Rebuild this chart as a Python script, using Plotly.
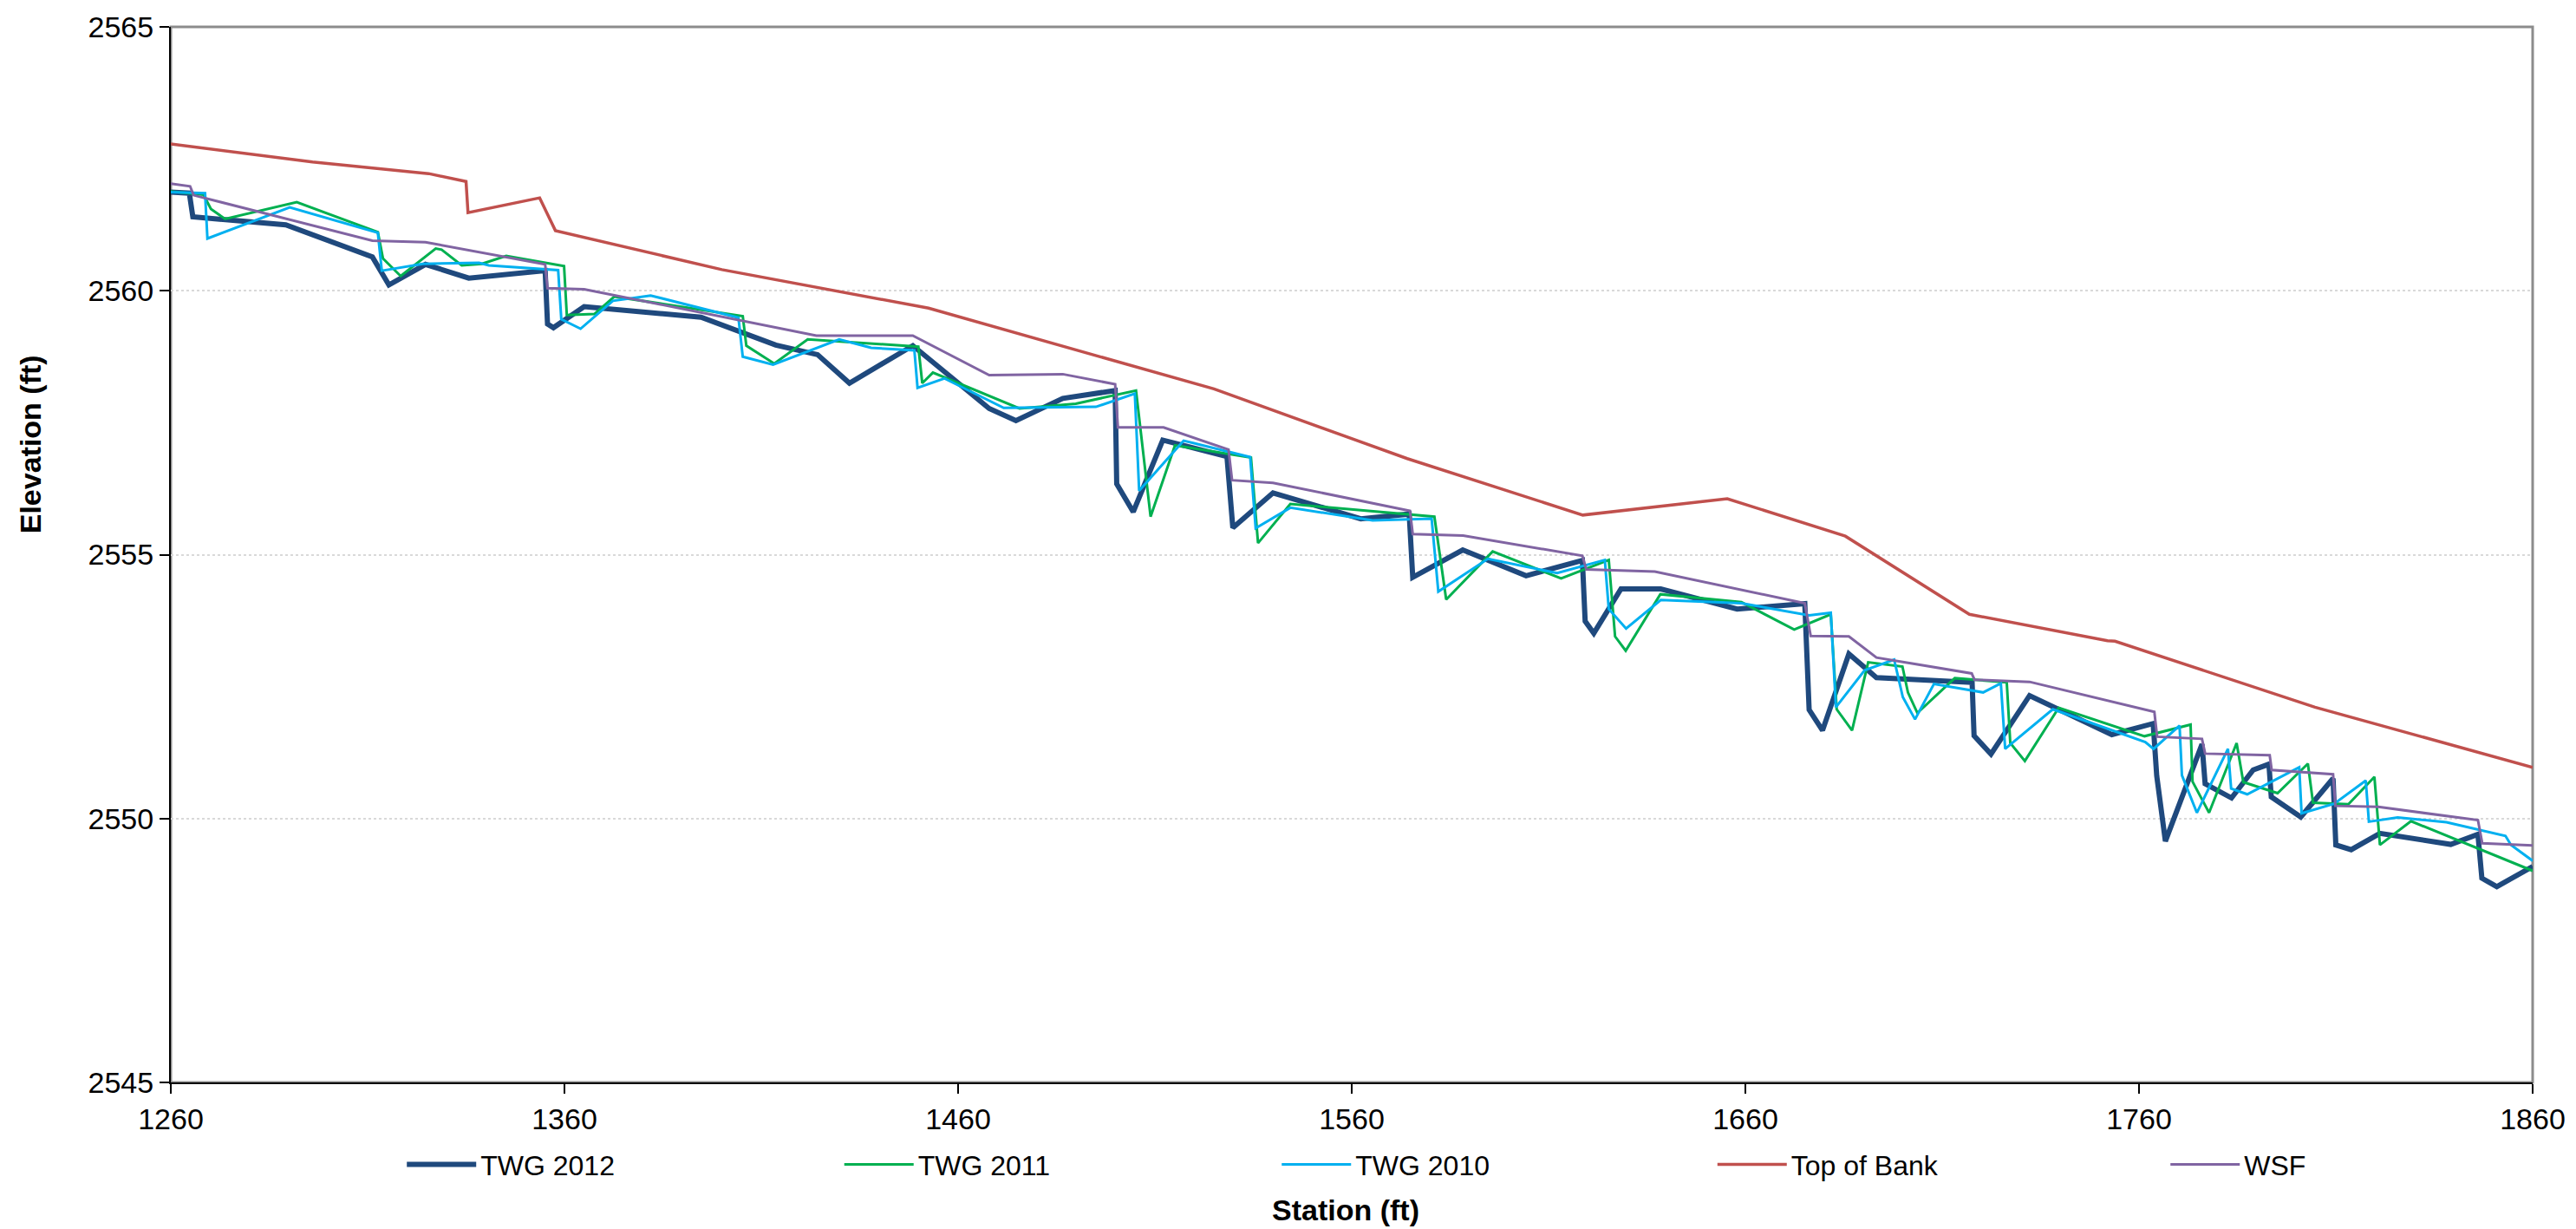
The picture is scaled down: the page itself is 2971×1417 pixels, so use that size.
import plotly.graph_objects as go

# ---------------- data ----------------
sta_2012 = [1260, 1264.7, 1265.6, 1289.2, 1311.2, 1315.4, 1324.7, 1335.7, 1355.1, 1355.7,
            1357.2, 1365.0, 1394.7, 1413.7, 1424.3, 1432.4, 1448.5, 1467.9, 1474.7, 1486.6,
            1499.9, 1500.3, 1504.5, 1512.0, 1528.3, 1529.8, 1540.0, 1562.3, 1574.6, 1575.5,
            1588.2, 1604.3, 1618.6, 1619.3, 1621.5, 1628.4, 1638.5, 1657.9, 1675.1, 1676.2,
            1679.6, 1686.3, 1693.3, 1717.6, 1718.1, 1722.4, 1732.2, 1753.1, 1763.6, 1764.5,
            1766.7, 1776.0, 1776.8, 1783.5, 1789.0, 1793.0, 1793.6, 1801.1, 1809.3, 1810.0,
            1813.9, 1821.2, 1839.2, 1846.1, 1847.1, 1850.9, 1860]
elev_2012 = [2561.87, 2561.85, 2561.40, 2561.25, 2560.64, 2560.11, 2560.50, 2560.24, 2560.38, 2559.37,
             2559.30, 2559.70, 2559.50, 2558.97, 2558.79, 2558.25, 2558.96, 2557.77, 2557.54, 2557.96,
             2558.11, 2556.34, 2555.81, 2557.17, 2556.86, 2555.51, 2556.17, 2555.68, 2555.77, 2554.57,
             2555.09, 2554.60, 2554.89, 2553.74, 2553.51, 2554.35, 2554.35, 2553.97, 2554.07, 2552.06,
             2551.67, 2553.12, 2552.67, 2552.58, 2551.57, 2551.22, 2552.33, 2551.59, 2551.80, 2550.81,
             2549.57, 2551.41, 2550.66, 2550.39, 2550.92, 2551.03, 2550.41, 2550.03, 2550.76, 2549.50,
             2549.41, 2549.72, 2549.51, 2549.70, 2548.87, 2548.71, 2549.09]

sta_2011 = [1260, 1268.3, 1270.2, 1273.8, 1292.0, 1312.6, 1313.9, 1318.4, 1327.3, 1328.8,
            1333.9, 1339.0, 1345.2, 1359.9, 1360.6, 1367.6, 1372.7, 1405.3, 1406.2, 1413.3,
            1421.8, 1449.9, 1450.9, 1453.6, 1475.6, 1489.9, 1505.2, 1508.9, 1515.1, 1534.4,
            1536.2, 1544.4, 1581.0, 1584.0, 1595.8, 1613.2, 1625.3, 1626.9, 1629.6, 1638.4,
            1659.0, 1672.4, 1681.7, 1683.2, 1687.1, 1691.2, 1699.9, 1701.3, 1703.7, 1713.2,
            1726.4, 1727.3, 1731.0, 1739.6, 1761.4, 1773.1, 1773.6, 1777.8, 1784.8, 1786.5,
            1795.2, 1802.9, 1804.2, 1813.2, 1819.8, 1821.2, 1829.1, 1860]
elev_2011 = [2561.88, 2561.82, 2561.55, 2561.36, 2561.68, 2561.11, 2560.61, 2560.28, 2560.80, 2560.78,
             2560.48, 2560.51, 2560.66, 2560.47, 2559.54, 2559.56, 2559.89, 2559.52, 2558.96, 2558.62,
             2559.08, 2558.94, 2558.25, 2558.45, 2557.77, 2557.86, 2558.11, 2555.72, 2557.07, 2556.84,
             2555.22, 2555.96, 2555.72, 2554.15, 2555.06, 2554.55, 2554.90, 2553.45, 2553.18, 2554.25,
             2554.10, 2553.58, 2553.87, 2552.07, 2551.67, 2552.96, 2552.88, 2552.39, 2552.00, 2552.66,
             2552.58, 2551.43, 2551.09, 2552.10, 2551.56, 2551.78, 2550.70, 2550.11, 2551.43, 2550.69,
             2550.48, 2551.04, 2550.30, 2550.27, 2550.79, 2549.50, 2549.95, 2549.01]

sta_2010 = [1260, 1268.7, 1269.3, 1290.2, 1312.6, 1313.6, 1324.0, 1338.3, 1340.8, 1358.4,
            1359.2, 1364.1, 1372.3, 1381.9, 1404.2, 1405.3, 1413.0, 1429.8, 1437.9, 1448.9,
            1449.7, 1456.5, 1471.6, 1495.0, 1504.9, 1506.0, 1517.3, 1534.2, 1535.6, 1544.4,
            1565.3, 1580.3, 1582.0, 1594.6, 1612.2, 1624.3, 1625.3, 1629.7, 1638.5, 1659.0,
            1676.2, 1681.7, 1683.0, 1690.3, 1697.8, 1700.0, 1703.1, 1707.9, 1720.4, 1724.9,
            1726.0, 1738.1, 1761.6, 1763.7, 1770.3, 1770.9, 1774.7, 1782.6, 1783.4, 1787.5,
            1800.7, 1801.3, 1809.6, 1817.6, 1818.4, 1825.7, 1838.1, 1853.1, 1854.5, 1860]
elev_2010 = [2561.87, 2561.85, 2560.99, 2561.58, 2561.10, 2560.38, 2560.51, 2560.53, 2560.48, 2560.39,
             2559.46, 2559.28, 2559.81, 2559.91, 2559.49, 2558.75, 2558.60, 2559.08, 2558.92, 2558.87,
             2558.16, 2558.34, 2557.78, 2557.80, 2558.05, 2556.21, 2557.16, 2556.85, 2555.50, 2555.89,
             2555.65, 2555.68, 2554.30, 2554.92, 2554.65, 2554.90, 2553.97, 2553.60, 2554.14, 2554.08,
             2553.85, 2553.90, 2552.11, 2552.81, 2553.01, 2552.30, 2551.88, 2552.55, 2552.39, 2552.56,
             2551.32, 2552.07, 2551.45, 2551.32, 2551.76, 2550.82, 2550.11, 2551.32, 2550.57, 2550.46,
             2550.97, 2550.10, 2550.28, 2550.72, 2549.94, 2550.02, 2549.93, 2549.67, 2549.50, 2549.20]

sta_bank = [1260, 1296.0, 1325.5, 1335.0, 1335.5, 1353.7, 1357.7, 1400.0, 1452.5, 1525.0,
            1574.1, 1618.7, 1655.4, 1685.4, 1716.9, 1752.0, 1753.9, 1804.7, 1860]
elev_bank = [2562.78, 2562.44, 2562.22, 2562.07, 2561.48, 2561.76, 2561.14, 2560.40, 2559.67, 2558.14,
             2556.82, 2555.75, 2556.06, 2555.35, 2553.87, 2553.37, 2553.36, 2552.11, 2550.97]

sta_wsf = [1260, 1264.9, 1265.8, 1311.2, 1324.7, 1355.1, 1355.7, 1365.0, 1424.0, 1448.5,
           1467.9, 1486.6, 1499.9, 1500.6, 1512.2, 1528.7, 1529.6, 1540.0, 1574.8, 1575.5,
           1588.3, 1618.6, 1619.6, 1637.0, 1675.1, 1676.6, 1686.3, 1693.3, 1717.5, 1718.2,
           1732.2, 1763.9, 1764.6, 1776.0, 1776.8, 1793.2, 1793.7, 1809.3, 1809.9, 1820.8,
           1846.1, 1847.2, 1860]
elev_wsf = [2562.03, 2561.98, 2561.81, 2560.95, 2560.92, 2560.50, 2560.05, 2560.03, 2559.15, 2559.15,
            2558.40, 2558.42, 2558.23, 2557.41, 2557.41, 2556.99, 2556.41, 2556.36, 2555.83, 2555.39,
            2555.36, 2554.98, 2554.72, 2554.68, 2554.08, 2553.46, 2553.45, 2553.05, 2552.75, 2552.63,
            2552.59, 2552.02, 2551.55, 2551.51, 2551.23, 2551.20, 2550.92, 2550.84, 2550.24, 2550.22,
            2549.97, 2549.53, 2549.49]

x_ticks = [1260, 1360, 1460, 1560, 1660, 1760, 1860]
y_ticks = [2545, 2550, 2555, 2560, 2565]

series = [
    ("TWG 2012", sta_2012, elev_2012, "#1F497D", 6),
    ("TWG 2011", sta_2011, elev_2011, "#00B050", 3),
    ("TWG 2010", sta_2010, elev_2010, "#00B0F0", 3),
    ("Top of Bank", sta_bank, elev_bank, "#C0504D", 3.5),
    ("WSF", sta_wsf, elev_wsf, "#8064A2", 3),
]

FONT = "Liberation Sans"

W, H = 2971, 1417
ML, MR, MT, MB = 197, 42, 28, 169
PW, PH = W - ML - MR, H - MT - MB

# legend entry start positions (pixels, left edge of swatch)
legend_px = [465, 971, 1477, 1981, 2505]
legend_names = ["legend", "legend2", "legend3", "legend4", "legend5"]

fig = go.Figure()
for (name, xs, ys, col, w), lg in zip(series, legend_names):
    fig.add_trace(go.Scatter(x=xs, y=ys, mode="lines", name=name, legend=lg,
                             line=dict(color=col, width=w)))

legend_layouts = {}
for lg, px in zip(legend_names, legend_px):
    legend_layouts[lg] = dict(
        orientation="h", x=(px - ML) / PW, xanchor="left",
        y=-(1343 - (MT + PH)) / PH, yanchor="middle",
        font=dict(family=FONT, size=32, color="black"),
        itemwidth=80, bgcolor="rgba(0,0,0,0)", borderwidth=0)

fig.update_layout(
    width=W, height=H,
    margin=dict(l=ML, r=MR, t=MT, b=MB, pad=0),
    paper_bgcolor="white", plot_bgcolor="white",
    font=dict(family=FONT, size=34, color="black"),
    showlegend=True,
    xaxis=dict(range=[1260, 1860], tickvals=x_ticks, ticktext=[str(v) for v in x_ticks],
               showgrid=False, zeroline=False, showline=True, linecolor="black", linewidth=2,
               ticks="outside", ticklen=11, tickwidth=1.5, tickcolor="black",
               tickfont=dict(family=FONT, size=34, color="black")),
    yaxis=dict(range=[2545, 2565], tickvals=y_ticks, ticktext=[str(v) for v in y_ticks],
               showgrid=True, gridcolor="#d9d9d9", griddash="dot", gridwidth=1.5,
               zeroline=False, showline=True, linecolor="black", linewidth=2,
               ticks="outside", ticklen=11, tickwidth=1.5, tickcolor="black",
               tickfont=dict(family=FONT, size=34, color="black")),
    shapes=[dict(type="rect", xref="paper", yref="paper", x0=0, x1=1, y0=0, y1=1,
                 line=dict(color="#8c8c8c", width=3), layer="below")],
    annotations=[
        dict(text="<b>Station (ft)</b>", xref="paper", yref="paper",
             x=(1556 - ML) / PW, y=-(1395 - (MT + PH)) / PH, xanchor="center", yanchor="middle",
             showarrow=False, font=dict(family=FONT, size=34, color="black")),
        dict(text="<b>Elevation (ft)</b>", xref="paper", yref="paper",
             x=(34 - ML) / PW, y=((MT + PH) - 510) / PH, xanchor="center", yanchor="middle",
             textangle=-90, showarrow=False, font=dict(family=FONT, size=34, color="black")),
    ],
    **legend_layouts,
)

fig.write_html("out.html", config={"displayModeBar": False},
               post_script="document.body.style.margin='0';document.body.style.overflow='hidden';")
